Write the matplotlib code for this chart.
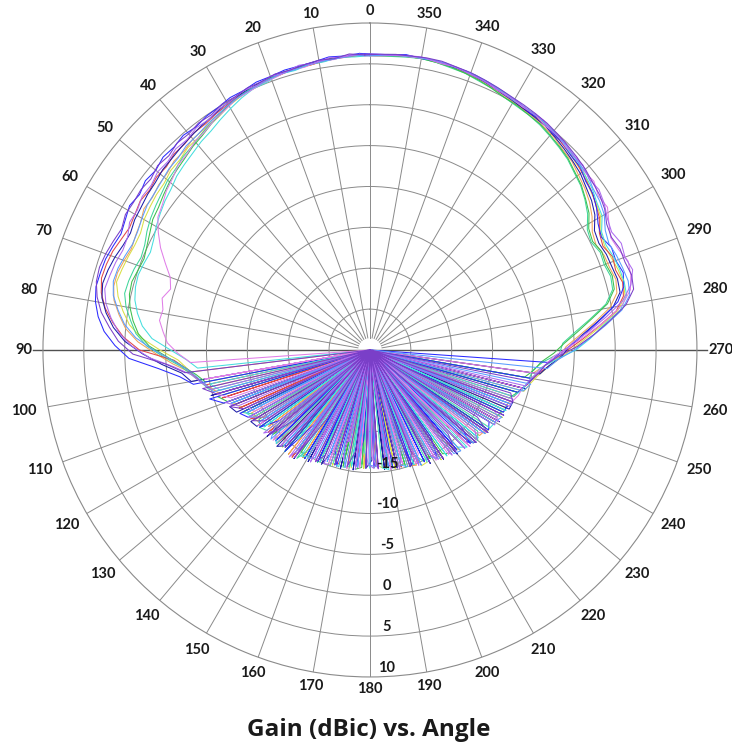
import numpy as np
import matplotlib
matplotlib.use("Agg")
import matplotlib.pyplot as plt
from matplotlib.transforms import ScaledTranslation

# measurement angles (deg): 3 deg steps, the runs were taken on three staggered grids
angles_a = np.arange(0, 360, 3)
angles_b = np.arange(1, 360, 3)
angles_c = np.arange(2, 360, 3)

# gain (dBic) per run. rows: 0-90 / 93-267 (back lobe, 6 lines) / 270-357 (grid index)
# -30 is the plot floor (deep nulls)
gain_blue = [6.3, 6.1, 6.2, 5.9, 5.8, 5.8, 5.6, 5.6, 5.3, 5.3, 5.0, 4.9, 4.6, 4.8, 4.5, 4.6, 4.2, 4.4, 4.0, 4.3, 3.9, 3.6, 3.9, 4.2, 4.3, 4.4, 4.1, 3.5, 2.6, 1.2, -0.5,
             -4.0, -6.5, -8.0, -30, -9.5, -11.0, -30, -12.3, -13.0, -30,
             -13.5, -16.0, -30, -14.0, -30, -13.8, -18.5, -30, -14.5, -30,
             -15.0, -30, -17.0, -15.2, -30, -30, -15.5, -19.0, -30, -15.8,
             -30, -16.0, -15.3, -30, -21.0, -15.0, -30, -14.8, -30, -14.5,
             -17.0, -30, -13.8, -30, -13.2, -15.5, -30, -12.5, -13.0, -30,
             -12.0, -11.8, -30, -11.2, -10.5, -9.8, -30, -8.0, -6.8,
             -5.0, -3.2, -1.2, 0.9, 2.0, 2.4, 2.0, 2.1, 1.5, 1.9, 2.7, 3.3, 3.5, 4.1, 4.2, 4.6, 4.7, 5.1, 5.0, 5.3, 5.3, 5.6, 5.8, 6.1, 6.1, 6.3, 6.2, 6.4, 6.2, 6.2]
gain_purple = [6.1, 6.3, 5.9, 6.0, 5.8, 5.6, 5.7, 5.4, 5.4, 5.1, 5.1, 4.7, 4.8, 4.5, 4.6, 4.2, 4.4, 4.0, 4.2, 4.1, 4.2, 3.8, 4.1, 4.4, 4.6, 4.5, 4.0, 3.2, 2.0, 0.8, -1.0,
               -5.0, -7.2, -30, -9.0, -10.5, -30, -11.5, -13.0, -30, -13.2,
               -14.5, -30, -13.8, -17.5, -30, -14.2, -30, -14.0, -20.0, -30,
               -14.8, -16.0, -30, -15.3, -30, -15.5, -17.5, -30, -15.6, -30,
               -15.5, -30, -18.0, -15.2, -30, -14.9, -16.5, -30, -14.5, -30,
               -14.0, -30, -13.6, -16.0, -30, -12.8, -30, -12.4, -14.5, -30,
               -11.8, -30, -11.4, -12.0, -30, -10.0, -9.2, -8.5, -7.0,
               -4.6, -2.5, -0.4, 1.8, 3.1, 3.3, 3.0, 3.0, 2.6, 2.8, 3.5, 3.9, 4.1, 4.4, 4.6, 4.8, 5.0, 5.2, 5.3, 5.4, 5.5, 5.7, 5.9, 6.1, 6.2, 6.4, 6.4, 6.3, 6.3, 6.2]
gain_violet = [6.2, 6.0, 6.1, 5.7, 5.9, 5.5, 5.6, 5.2, 5.3, 4.9, 4.8, 4.4, 4.5, 4.1, 4.2, 3.8, 3.9, 3.5, 3.6, 3.2, 3.3, 2.7, 2.6, 2.9, 3.1, 3.3, 2.8, 1.9, 0.8, -0.8, -3.0,
               -6.0, -8.0, -9.0, -10.0, -30, -11.2, -12.5, -30, -13.0, -14.5,
               -30, -13.5, -15.0, -30, -14.0, -30, -13.6, -16.5, -30, -14.5,
               -30, -15.0, -15.2, -30, -18.5, -30, -15.3, -30, -16.0, -15.5,
               -30, -15.5, -30, -15.0, -17.0, -30, -14.7, -30, -15.5, -14.2,
               -30, -13.7, -30, -13.3, -30, -12.9, -14.0, -30, -12.2, -12.5,
               -30, -11.6, -11.5, -30, -10.5, -10.0, -9.0, -8.2, -6.5,
               -5.2, -3.0, -0.8, 1.5, 2.9, 3.6, 3.2, 3.4, 2.9, 3.2, 3.8, 4.2, 4.0, 4.5, 4.4, 4.9, 4.8, 5.2, 5.1, 5.3, 5.3, 5.6, 5.8, 6.0, 6.2, 6.2, 6.4, 6.3, 6.1, 6.2]
gain_pink = [6.0, 6.2, 5.8, 5.9, 5.5, 5.6, 5.3, 5.2, 4.9, 4.8, 4.3, 4.0, 3.5, 3.3, 2.8, 2.6, 2.0, 1.6, 1.0, 0.6, -0.4, -1.5, -2.8, -4.0, -4.5, -3.8, -4.2, -4.0, -4.6, -5.2, -6.5,
             -8.0, -30, -9.5, -30, -10.5, -12.0, -30, -13.5, -14.0, -30,
             -13.5, -30, -16.0, -13.8, -30, -15.0, -30, -14.0, -30, -16.5,
             -14.8, -30, -15.5, -30, -16.5, -15.2, -30, -15.5, -30, -17.0,
             -15.4, -30, -15.2, -30, -15.5, -30, -15.0, -16.0, -30, -14.3,
             -30, -14.0, -15.0, -30, -13.0, -30, -13.5, -12.5, -30, -12.0,
             -13.0, -30, -11.5, -11.0, -10.8, -30, -9.5, -8.5, -7.5,
             -5.5, -3.4, -1.0, 1.3, 2.7, 3.2, 3.4, 2.8, 2.5, 3.1, 3.9, 3.7, 4.3, 4.1, 4.6, 4.5, 4.9, 4.8, 5.2, 5.1, 5.4, 5.4, 5.8, 5.9, 6.2, 6.1, 6.3, 6.2, 6.2, 6.0]
gain_red = [6.1, 6.0, 5.9, 5.8, 5.6, 5.7, 5.4, 5.3, 5.0, 5.0, 4.7, 4.5, 4.2, 4.2, 3.9, 3.9, 3.5, 3.6, 3.3, 3.5, 3.2, 3.0, 3.3, 3.7, 3.9, 4.0, 3.6, 2.8, 1.6, 0.2, -1.8,
            -6.0, -7.5, -8.5, -9.5, -30, -11.0, -30, -12.5, -30, -13.2,
            -15.0, -30, -14.0, -30, -13.8, -19.0, -30, -13.8, -30, -15.0,
            -30, -15.2, -30, -16.0, -15.5, -30, -22.0, -15.5, -30, -30,
            -15.8, -30, -16.5, -30, -15.2, -30, -17.5, -14.8, -30, -30,
            -14.5, -30, -14.0, -30, -17.0, -13.0, -30, -13.0, -30, -12.5,
            -30, -12.0, -30, -11.5, -11.0, -10.2, -9.6, -8.4, -7.0,
            -5.8, -3.9, -1.8, 0.5, 1.7, 2.0, 1.6, 1.8, 1.2, 1.5, 2.4, 2.9, 3.4, 3.7, 4.1, 4.3, 4.6, 4.8, 5.0, 5.0, 5.2, 5.4, 5.7, 5.9, 6.1, 6.1, 6.3, 6.2, 6.2, 6.1]
gain_orange = [6.0, 6.1, 5.9, 5.7, 5.7, 5.5, 5.4, 5.3, 5.0, 4.8, 4.4, 4.2, 3.8, 3.7, 3.3, 3.3, 2.9, 2.8, 2.5, 2.6, 2.1, 1.9, 1.7, 2.0, 2.3, 2.3, 1.9, 1.0, 0.0, -1.6, -3.8,
               -5.8, -7.8, -30, -9.8, -10.8, -30, -12.0, -30, -13.5, -14.0,
               -30, -14.5, -30, -14.0, -16.0, -30, -13.8, -30, -14.5, -30,
               -15.5, -17.0, -30, -15.4, -30, -15.3, -30, -18.0, -15.8, -30,
               -30, -15.3, -30, -15.6, -30, -15.0, -14.8, -30, -16.5, -30,
               -14.2, -30, -14.5, -30, -13.5, -30, -13.0, -12.8, -30, -12.2,
               -30, -12.0, -11.8, -30, -10.8, -30, -9.8, -8.5, -6.8,
               -6.0, -4.3, -2.3, -0.2, 1.0, 1.3, 1.0, 0.9, 0.5, 0.8, 1.7, 2.4, 2.9, 3.3, 3.8, 4.0, 4.4, 4.6, 4.8, 4.9, 5.1, 5.3, 5.6, 5.8, 6.0, 6.1, 6.2, 6.2, 6.1, 6.0]
gain_yellow = [6.2, 6.0, 6.0, 5.8, 5.6, 5.6, 5.5, 5.2, 5.1, 4.8, 4.5, 4.0, 3.8, 3.4, 3.3, 2.9, 2.8, 2.4, 2.3, 2.1, 1.9, 1.5, 1.5, 1.7, 1.9, 2.1, 1.5, 0.6, -0.4, -2.0, -4.3,
               -6.5, -7.6, -8.5, -9.5, -10.5, -30, -12.0, -12.8, -30, -13.5,
               -13.8, -30, -14.0, -30, -15.5, -14.0, -30, -14.2, -30, -14.8,
               -30, -15.0, -30, -15.2, -30, -17.0, -15.4, -30, -15.5, -30,
               -16.0, -15.5, -30, -15.2, -30, -15.0, -30, -14.5, -14.6, -30,
               -14.0, -30, -15.5, -13.5, -30, -13.2, -30, -12.6, -12.5, -30,
               -11.8, -30, -11.6, -30, -10.5, -10.0, -9.3, -8.3, -7.0,
               -5.4, -3.6, -1.5, 0.7, 1.9, 2.1, 1.9, 1.6, 1.4, 1.7, 2.6, 3.0, 3.3, 3.9, 4.0, 4.4, 4.6, 4.9, 4.9, 5.1, 5.2, 5.5, 5.7, 6.0, 6.0, 6.2, 6.3, 6.3, 6.1, 6.1]
gain_green = [6.1, 6.1, 5.9, 5.8, 5.6, 5.5, 5.4, 5.2, 5.0, 4.7, 4.2, 3.8, 3.3, 3.0, 2.6, 2.3, 2.0, 1.6, 1.2, 1.0, 0.5, 0.1, -0.2, 0.0, 0.3, 0.2, -0.2, -0.8, -1.6, -3.0, -5.2,
              -7.0, -8.5, -9.5, -30, -10.5, -11.5, -30, -13.0, -30, -14.0,
              -13.6, -30, -14.2, -18.0, -30, -14.0, -30, -15.0, -14.5, -30,
              -15.0, -30, -16.5, -30, -15.5, -30, -15.3, -15.6, -30, -19.5,
              -30, -15.4, -30, -15.3, -15.5, -30, -15.2, -30, -14.8, -30,
              -14.5, -14.0, -30, -13.5, -30, -13.0, -30, -13.0, -30, -12.5,
              -12.2, -30, -12.0, -11.2, -30, -10.8, -9.8, -9.0, -7.5,
              -6.2, -4.5, -2.6, -0.4, 0.8, 1.0, 0.7, 0.8, 0.3, 0.6, 1.6, 2.2, 2.8, 3.2, 3.7, 4.0, 4.3, 4.6, 4.7, 4.9, 5.0, 5.3, 5.6, 5.8, 6.0, 6.1, 6.2, 6.2, 6.1, 6.0]
gain_cyan = [6.0, 5.9, 6.0, 5.7, 5.7, 5.4, 5.5, 5.1, 5.0, 4.6, 4.1, 3.6, 3.1, 2.8, 2.4, 2.1, 1.8, 1.3, 1.0, 0.6, 0.2, -0.3, -0.6, -0.4, -0.2, -0.3, -0.6, -1.2, -2.0, -3.3, -5.6,
             -7.5, -8.8, -30, -10.0, -11.0, -30, -12.0, -30, -13.0, -13.5,
             -30, -14.0, -30, -14.5, -13.8, -30, -16.0, -30, -14.5, -15.0,
             -30, -15.0, -30, -15.5, -15.2, -30, -15.6, -30, -17.5, -15.5,
             -30, -15.5, -15.2, -30, -16.0, -30, -15.0, -30, -14.6, -17.0,
             -30, -14.0, -30, -14.0, -13.2, -30, -13.0, -30, -12.5, -12.3,
             -30, -11.8, -30, -11.6, -10.8, -10.4, -9.7, -9.0, -7.2,
             -4.8, -3.0, -1.3, 1.0, 2.1, 2.2, 2.1, 1.9, 1.6, 1.8, 2.8, 3.1, 3.6, 3.9, 4.3, 4.4, 4.8, 4.9, 5.1, 5.2, 5.2, 5.5, 5.8, 6.0, 6.1, 6.2, 6.3, 6.2, 6.2, 6.1]
gain_teal = [6.1, 6.0, 5.9, 5.9, 5.6, 5.6, 5.4, 5.3, 5.0, 4.8, 4.3, 3.9, 3.5, 3.1, 2.9, 2.5, 2.3, 1.9, 1.6, 1.3, 0.9, 0.4, 0.2, 0.5, 0.7, 0.8, 0.3, -0.5, -1.3, -2.7, -4.8,
             -6.8, -8.0, -9.0, -9.8, -30, -11.2, -30, -12.6, -13.8, -30,
             -13.5, -14.0, -30, -14.5, -30, -13.8, -30, -14.0, -16.0, -30,
             -14.8, -30, -15.0, -30, -15.3, -15.5, -30, -16.0, -30, -15.6,
             -30, -18.5, -15.3, -30, -15.0, -30, -16.0, -14.8, -30, -14.4,
             -30, -13.8, -30, -14.0, -30, -12.8, -13.5, -30, -12.4, -30,
             -12.0, -11.9, -30, -11.3, -30, -10.2, -9.9, -8.8, -6.8,
             -6.4, -4.8, -2.8, -0.6, 0.6, 0.8, 0.5, 0.6, 0.1, 0.4, 1.4, 2.1, 2.7, 3.1, 3.6, 3.9, 4.2, 4.5, 4.7, 4.8, 5.0, 5.3, 5.5, 5.8, 5.9, 6.1, 6.2, 6.1, 6.0, 6.0]
gain_navy = [6.2, 6.1, 6.0, 5.9, 5.8, 5.6, 5.6, 5.4, 5.2, 5.0, 4.8, 4.5, 4.3, 4.1, 3.9, 3.7, 3.6, 3.3, 3.2, 3.0, 2.9, 2.6, 2.8, 3.2, 3.5, 3.7, 3.4, 2.6, 1.5, 0.0, -2.2,
             -4.5, -6.8, -7.8, -30, -9.8, -30, -11.5, -12.0, -30, -13.0,
             -13.3, -30, -13.6, -30, -13.6, -14.5, -30, -13.8, -30, -14.4,
             -30, -14.8, -17.0, -30, -15.1, -30, -15.2, -30, -15.5, -16.5,
             -30, -15.3, -30, -15.2, -30, -14.9, -15.5, -30, -14.3, -30,
             -13.9, -30, -13.4, -30, -13.8, -12.8, -30, -12.4, -30, -11.9,
             -30, -11.5, -11.4, -30, -10.4, -30, -9.0, -8.0, -6.6,
             -5.6, -4.0, -2.0, 0.2, 1.4, 1.5, 1.3, 1.2, 0.9, 1.1, 2.1, 2.7, 3.1, 3.6, 3.9, 4.2, 4.5, 4.8, 4.9, 5.0, 5.2, 5.4, 5.7, 5.9, 6.1, 6.2, 6.3, 6.3, 6.2, 6.1]
gain_ltblue = [6.0, 6.1, 5.9, 5.8, 5.7, 5.5, 5.5, 5.3, 5.1, 4.9, 4.6, 4.3, 4.0, 3.7, 3.6, 3.2, 3.1, 2.8, 2.6, 2.5, 2.2, 1.9, 1.8, 2.1, 2.4, 2.5, 2.1, 1.2, 0.2, -1.3, -3.5,
               -5.8, -7.5, -8.6, -9.5, -10.2, -30, -11.8, -30, -13.2, -30,
               -13.8, -30, -15.0, -13.7, -30, -14.2, -30, -14.5, -30, -14.7,
               -15.2, -30, -15.4, -30, -18.0, -15.3, -30, -15.6, -30, -15.9,
               -15.7, -30, -15.6, -30, -15.4, -15.0, -30, -14.6, -30, -14.8,
               -14.2, -30, -13.7, -13.4, -30, -13.0, -30, -12.6, -30, -12.4,
               -11.9, -30, -11.5, -30, -10.6, -9.9, -30, -8.2, -7.0,
               -5.0, -3.1, -1.0, 1.2, 2.5, 2.7, 2.5, 2.3, 2.0, 2.3, 3.1, 3.5, 3.7, 4.2, 4.3, 4.6, 4.8, 5.0, 5.2, 5.2, 5.4, 5.6, 5.8, 6.0, 6.1, 6.3, 6.3, 6.3, 6.2, 6.1]

# (gain, colour, angle grid); drawing order: light colours first
runs = [
    (gain_yellow, "#d9df45", angles_a),
    (gain_orange, "#f0a35a", angles_b),
    (gain_teal, "#3fd69a", angles_c),
    (gain_red, "#e04848", angles_a),
    (gain_navy, "#1c1ca8", angles_b),
    (gain_green, "#3cbf4c", angles_c),
    (gain_blue, "#2a2aff", angles_c),
    (gain_cyan, "#45dede", angles_a),
    (gain_pink, "#e07ee8", angles_b),
    (gain_ltblue, "#5a9cff", angles_a),
    (gain_violet, "#ad6cf0", angles_c),
    (gain_purple, "#7a3fc8", angles_b),
]

angle_ticks = list(range(0, 360, 10))
ring_values = [-25, -20, -15, -10, -5, 0, 5]
ring_labels = [-15, -10, -5, 0, 5, 10]

for g, c, ang in runs:
    assert len(g) == len(ang), (c, len(g))

font = ["Lato", "DejaVu Sans"]
grid_col = "#8a8a8a"
text_col = "#1a1a1a"

fig = plt.figure(figsize=(7.32, 7.44), dpi=100)
ax = fig.add_axes([0.0587, 0.0901, 0.8934, 0.879], projection="polar")
ax.set_theta_zero_location("N")
ax.set_theta_direction(1)
ax.set_ylim(-30, 10)

# rings (outer circle is the spine at 10)
ax.set_xticks([])
ax.set_rticks(ring_values)
ax.set_yticklabels([])
ax.yaxis.grid(True, color=grid_col, lw=0.7)
ax.spines["polar"].set_color(grid_col)
ax.spines["polar"].set_linewidth(0.8)

# spokes, stopping just short of the centre
for a in angle_ticks:
    if a in (90, 270):
        continue
    ax.plot([np.radians(a)] * 2, [-28.5, 10], color=grid_col, lw=0.7, zorder=1)

# darker horizontal axis that runs a bit past the circle
ax.plot([np.pi / 2] * 2, [11.2, -30], color="#505050", lw=1.0, clip_on=False, zorder=1.5)
ax.plot([3 * np.pi / 2] * 2, [-30, 11.2], color="#505050", lw=1.0, clip_on=False, zorder=1.5)

# angle labels just outside the circle
for a in angle_ticks:
    t = np.radians(a)
    lab = str(a)
    w = 8.5 * len(lab)
    d = 9 + 3 * abs(np.cos(t)) + (w / 2 + 2) * abs(np.sin(t))
    off = ScaledTranslation(-np.sin(t) * d / 100, np.cos(t) * d / 100, fig.dpi_scale_trans)
    ax.text(t, 10, lab, transform=ax.transData + off, ha="center", va="center",
            fontsize=10.5, fontweight="bold", family=font, color=text_col, clip_on=False)

# the runs
for g, c, ang in runs:
    th = np.radians(np.append(ang, ang[0]))
    ax.plot(th, np.append(g, g[0]), color=c, lw=0.75, zorder=3)

# radial labels beside the 180 spoke
off = ScaledTranslation(0.17, 0.09, fig.dpi_scale_trans)
for v in ring_labels:
    ax.text(np.pi, v, str(v), transform=ax.transData + off, ha="center", va="center",
            fontsize=10.5, fontweight="bold", family=font, color=text_col, zorder=5)

fig.text(0.503, 1 - 730 / 744, "Gain (dBic) vs. Angle", ha="center", va="center",
         fontsize=17.5, fontweight="bold", family=["Open Sans", "DejaVu Sans"], color=text_col)

fig.savefig("out.png", dpi=100, facecolor="white")
